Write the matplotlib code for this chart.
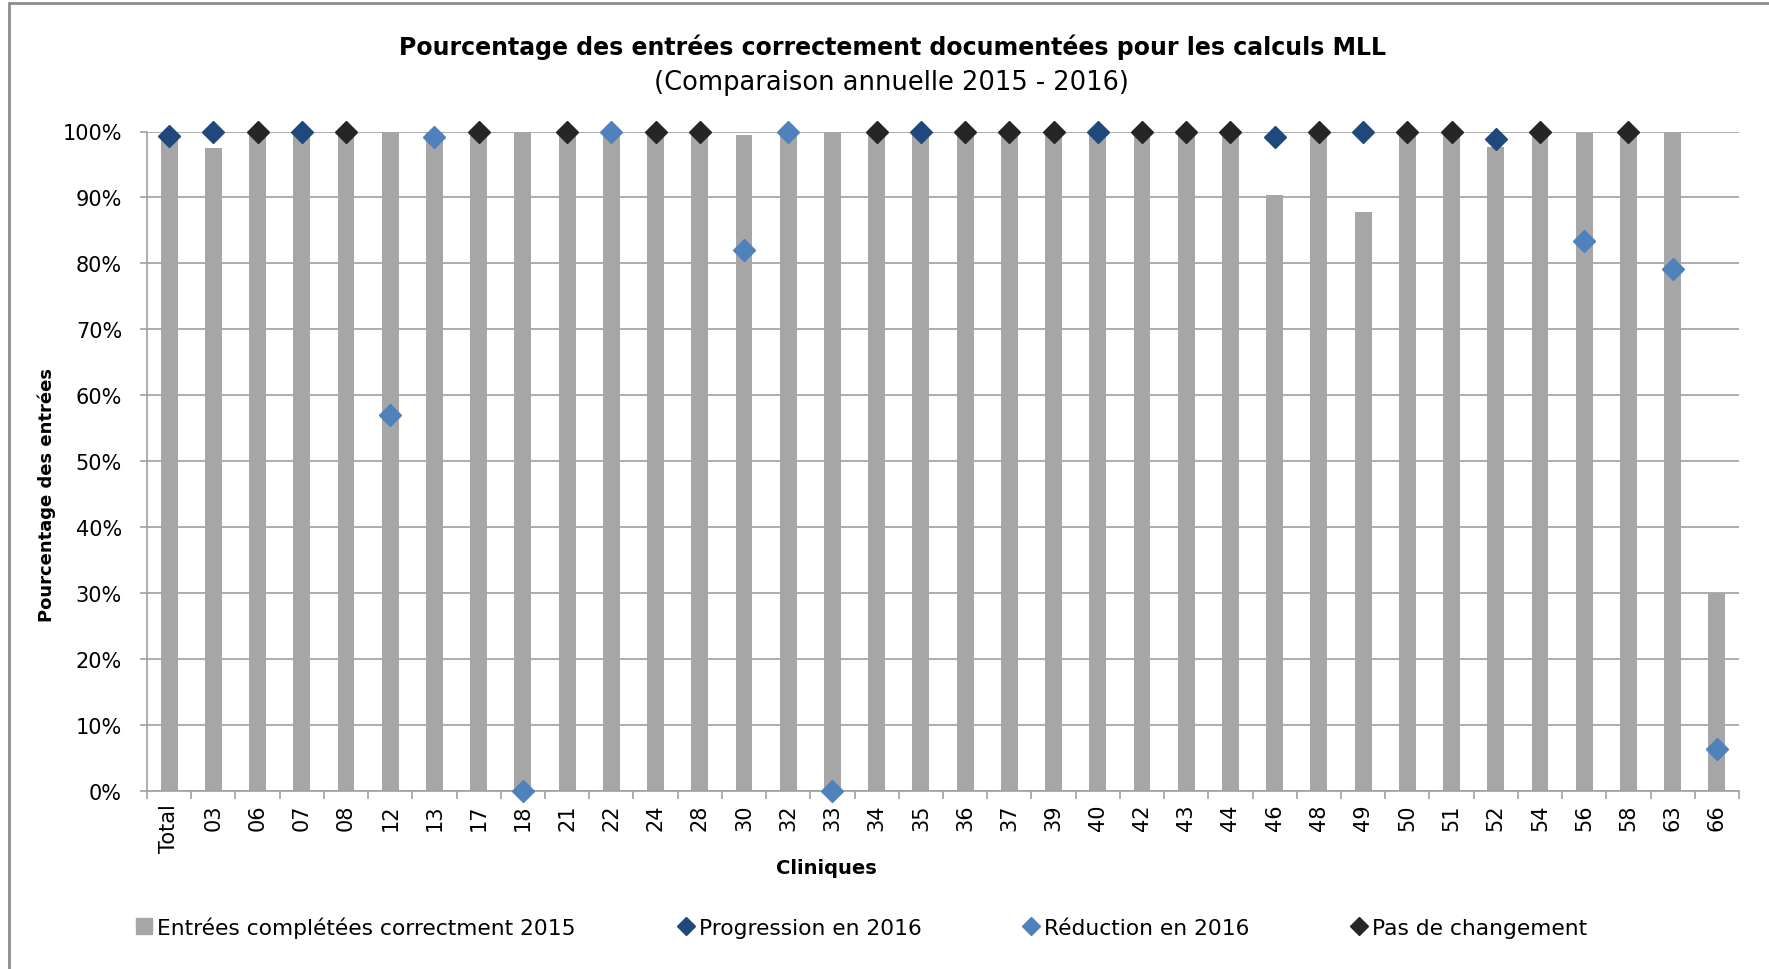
import matplotlib.pyplot as plt
import matplotlib.patches as mpatches
from matplotlib.lines import Line2D
import numpy as np

nan = np.nan

cliniques = ["Total", "03", "06", "07", "08", "12", "13", "17", "18", "21",
             "22", "24", "28", "30", "32", "33", "34", "35", "36", "37",
             "39", "40", "42", "43", "44", "46", "48", "49", "50", "51",
             "52", "54", "56", "58", "63", "66"]

entrees_2015 = [98.8, 97.5, 100, 100, 100, 100, 100, 100, 100, 100,
                100, 100, 100, 99.5, 100, 100, 100, 100, 100, 100,
                100, 100, 100, 100, 100, 90.3, 100, 87.8, 100, 100,
                97.7, 100, 99.7, 100, 100, 30.0]

progression = [99.3, 100, nan, 100, nan, nan, nan, nan, nan, nan,
               nan, nan, nan, nan, nan, nan, nan, 100, nan, nan,
               nan, 100, nan, nan, nan, 99.2, nan, 100, nan, nan,
               98.9, nan, nan, nan, nan, nan]

reduction = [nan, nan, nan, nan, nan, 57.0, 99.2, nan, 0.0, nan,
             99.9, nan, nan, 82.0, 99.9, 0.0, nan, nan, nan, nan,
             nan, nan, nan, nan, nan, nan, nan, nan, nan, nan,
             nan, nan, 83.4, nan, 79.1, 6.3]

pas_de_changement = [nan, nan, 100, nan, 100, nan, nan, 100, nan, 100,
                     nan, 100, 100, nan, nan, nan, 100, nan, 100, 100,
                     100, nan, 100, 100, 100, nan, 100, nan, 100, 100,
                     nan, 100, nan, 100, nan, nan]

gris = "#A6A6A6"
bleu_fonce = "#1F497D"
bleu_clair = "#4F81BD"
noir = "#262626"
ligne = "#A0A0A0"

fig = plt.figure(figsize=(17.69, 9.70), dpi=100)
W, H = 1769, 970
ax = fig.add_axes([147 / W, 1 - 792 / H, (1739 - 147) / W, (792 - 132.5) / H])

x = np.arange(len(cliniques))
ax.bar(x, entrees_2015, width=0.38, color=gris, zorder=2)
for serie, couleur in [(progression, bleu_fonce), (reduction, bleu_clair),
                       (pas_de_changement, noir)]:
    ax.plot(x, serie, "D", color=couleur, markersize=11, zorder=3, clip_on=False)

ax.set_xlim(-0.5, len(cliniques) - 0.5)
ax.set_ylim(0, 100)
ax.set_yticks(np.arange(0, 101, 10))
ax.set_yticklabels([f"{v}%" for v in range(0, 101, 10)], fontsize=15)
ax.yaxis.grid(True, color=ligne, linewidth=1.2, zorder=0)
ax.set_axisbelow(True)

ax.set_xticks(x)
ax.set_xticklabels(cliniques, rotation=90, fontsize=15)
ax.set_xticks(np.arange(-0.5, len(cliniques)), minor=True)
ax.tick_params(axis="x", which="major", length=0, pad=9)
ax.tick_params(axis="x", which="minor", length=6, color=ligne, width=1.2)
ax.tick_params(axis="y", length=5, color=ligne, width=1.2, pad=13)

for s in ["top", "right"]:
    ax.spines[s].set_visible(False)
for s in ["left", "bottom"]:
    ax.spines[s].set_color(ligne)
    ax.spines[s].set_linewidth(1.2)

fig.text(892 / W, 1 - 47 / H,
         "Pourcentage des entrées correctement documentées pour les calculs MLL",
         ha="center", va="center", fontsize=17, fontweight="bold")
fig.text(891 / W, 1 - 83 / H, "(Comparaison annuelle 2015 - 2016)",
         ha="center", va="center", fontsize=18.5)
fig.text(47 / W, 1 - 495 / H, "Pourcentage des entrées", rotation=90,
         ha="center", va="center", fontsize=13, fontweight="bold")
fig.text(826 / W, 1 - 868 / H, "Cliniques", ha="center", va="center",
         fontsize=14, fontweight="bold")

# cadre extérieur du graphique
fig.patches.append(mpatches.Rectangle((9 / W, -0.1), 1.2, 1 - 3.5 / H + 0.1,
                                      transform=fig.transFigure, fill=False,
                                      edgecolor="#8C8C8C", linewidth=2))

poignees = [
    Line2D([], [], marker="s", linestyle="none", color=gris, markersize=11),
    Line2D([], [], marker="D", linestyle="none", color=bleu_fonce, markersize=9),
    Line2D([], [], marker="D", linestyle="none", color=bleu_clair, markersize=9),
    Line2D([], [], marker="D", linestyle="none", color=noir, markersize=9),
]
noms = ["Entrées complétées correctment 2015", "Progression en 2016",
        "Réduction en 2016", "Pas de changement"]
fig.legend(poignees, noms, loc="center left", bbox_to_anchor=(116 / W, 1 - 928 / H),
           ncol=4, frameon=False, fontsize=15.7, handlelength=0.8,
           handletextpad=0.2, columnspacing=4.63)

fig.savefig("out.png", dpi=100)
